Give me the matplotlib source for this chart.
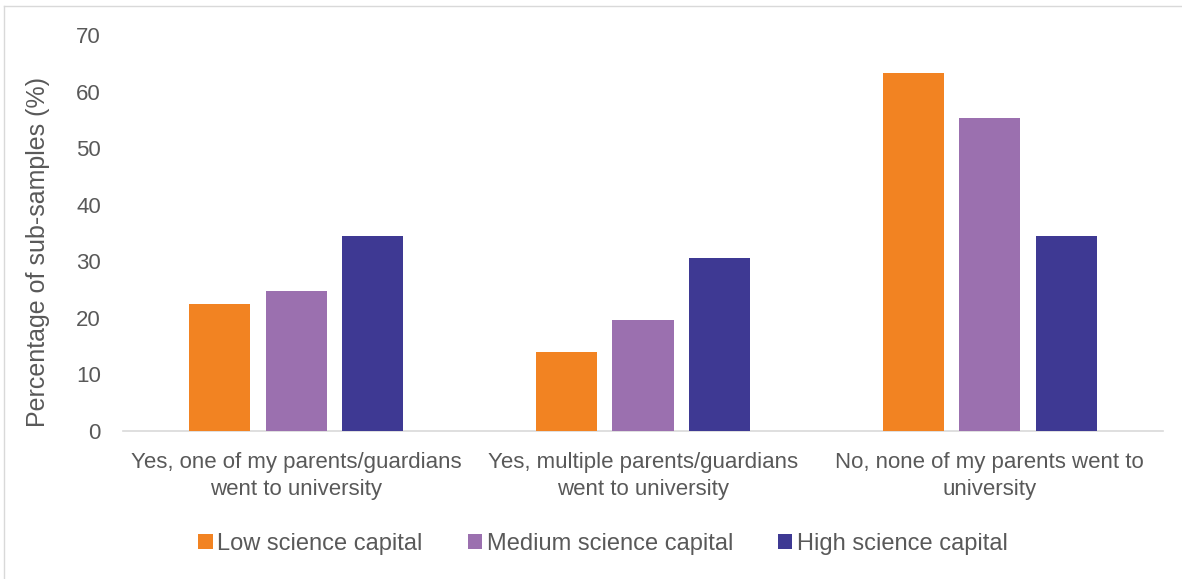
import matplotlib
matplotlib.use("Agg")
import matplotlib.pyplot as plt
import numpy as np
from matplotlib.lines import Line2D

categories = ["Yes, one of my parents/guardians\nwent to university",
              "Yes, multiple parents/guardians\nwent to university",
              "No, none of my parents went to\nuniversity"]
series_names = ["Low science capital", "Medium science capital", "High science capital"]
low = [22.5, 14.0, 63.3]
medium = [24.8, 19.6, 55.3]
high = [34.5, 30.6, 34.5]
yticks = [0, 10, 20, 30, 40, 50, 60, 70]
colors = ["#F28322", "#9B70AF", "#3E3993"]
text_color = "#595959"

plt.rcParams['font.family'] = ['Liberation Sans', 'DejaVu Sans']

fig = plt.figure(figsize=(11.82, 5.79), dpi=100)
ax = fig.add_axes([123/1182, 1-431/579, 1040/1182, 396/579])

x = np.arange(len(categories))
w = 0.176
pitch = 0.221
for i, (vals, name) in enumerate(zip([low, medium, high], series_names)):
    ax.bar(x + (i-1)*pitch, vals, width=w, color=colors[i], label=name, zorder=3)

ax.set_xlim(-0.5, 2.5)
ax.set_ylim(0, 70)
ax.set_yticks(yticks)
ax.set_yticklabels([str(t) for t in yticks], fontsize=16, color=text_color)
ax.set_xticks(x)
ax.set_xticklabels(categories, fontsize=16, color=text_color, linespacing=1.38)
ax.tick_params(axis='both', length=0)
ax.tick_params(axis='y', pad=16)
ax.tick_params(axis='x', pad=15)
for s in ['top', 'right', 'left']:
    ax.spines[s].set_visible(False)
ax.spines['bottom'].set_color('#D9D9D9')
ax.spines['bottom'].set_linewidth(1.2)
ax.set_ylabel("Percentage of sub-samples (%)", fontsize=18, color=text_color)
ax.yaxis.set_label_coords(-(123-50)/1040, (431-252)/396)

leg = fig.legend(loc='center', bbox_to_anchor=(603/1182, 1-544/579), ncol=3, frameon=False,
                 handlelength=0.6, handleheight=0.6, handletextpad=0.2,
                 columnspacing=1.9, labelcolor=text_color,
                 prop={'family': ['Liberation Sans'], 'size': 17})

# outer chart border (top and left)
fig.add_artist(Line2D([4/1182, 1], [1-6/579, 1-6/579], color='#D9D9D9', lw=1, transform=fig.transFigure))
fig.add_artist(Line2D([4/1182, 4/1182], [0, 1-6/579], color='#D9D9D9', lw=1, transform=fig.transFigure))

fig.savefig("out.png", dpi=100, facecolor='white')
